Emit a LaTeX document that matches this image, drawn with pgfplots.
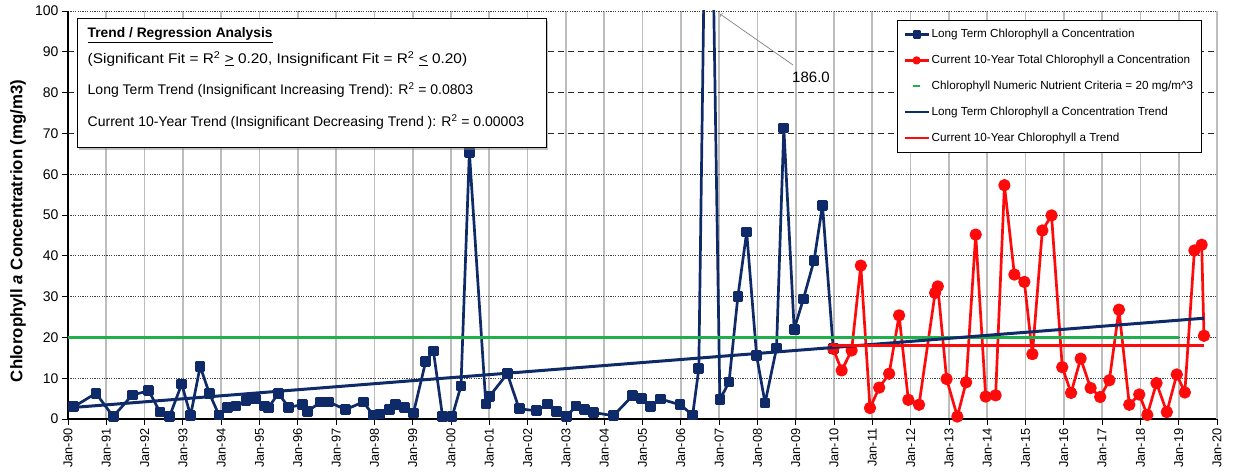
\documentclass[border=0pt]{standalone}
\usepackage{fontspec}
\setmainfont{Liberation Sans}
\usepackage{graphicx}
\usepackage{pgfplots}
\pgfplotsset{compat=1.18}
\usetikzlibrary{shadows}
\definecolor{navy}{HTML}{0F2A68}
\definecolor{chred}{HTML}{FF0A0A}
\definecolor{chgreen}{HTML}{1FB04C}
\definecolor{gridgray}{HTML}{BDBDBD}
\pgfplotsset{greenleg/.style={legend image code/.code={\draw[##1, line width=2pt] (8pt,0pt) -- (15pt,0pt);}}}
\newcommand{\lf}{\fontsize{11.7}{13}\selectfont}

\pgfplotstableread{
x y
0.15 3.0
0.73 6.3
1.18 0.6
1.68 5.9
2.11 6.9
2.40 1.7
2.65 0.6
2.97 8.6
3.20 0.8
3.45 12.9
3.69 6.3
3.94 1.0
4.17 2.9
4.39 3.2
4.65 4.5
4.89 4.9
5.13 3.2
5.23 2.7
5.49 6.3
5.76 2.9
6.13 3.5
6.26 1.9
6.60 4.2
6.80 4.2
7.25 2.3
7.71 4.2
7.96 1.0
8.15 1.2
8.39 2.3
8.56 3.5
8.78 2.8
9.02 1.5
9.34 14.1
9.54 16.7
9.78 0.6
10.03 0.6
10.26 8.1
10.48 65.4
10.91 3.7
11.00 5.5
11.47 11.1
11.78 2.5
12.24 2.0
12.52 3.7
12.76 1.9
13.02 0.6
13.26 3.2
13.48 2.4
13.72 1.6
14.24 0.8
14.74 5.7
14.98 5.0
15.21 3.1
15.47 4.9
15.98 3.5
16.31 1.0
16.47 12.3
16.72 186.0
17.02 4.7
17.26 9.1
17.49 30.0
17.72 45.8
17.98 15.5
18.20 3.9
18.50 17.4
18.69 71.3
18.96 22.0
19.20 29.4
19.48 38.9
19.70 52.4
19.98 17.2
}\longterm

\pgfplotstableread{
x y
19.98 17.2
20.20 11.9
20.46 16.8
20.70 37.6
20.94 2.7
21.18 7.7
21.44 11.1
21.70 25.4
21.94 4.7
22.22 3.5
22.64 30.9
22.71 32.5
22.94 9.8
23.22 0.6
23.45 9.0
23.70 45.2
23.96 5.5
24.22 5.8
24.45 57.3
24.71 35.4
24.97 33.6
25.18 15.9
25.44 46.2
25.68 49.9
25.96 12.7
26.19 6.4
26.44 14.8
26.70 7.6
26.95 5.4
27.19 9.5
27.44 26.8
27.71 3.5
27.97 6.0
28.18 1.0
28.42 8.8
28.69 1.7
28.95 10.9
29.16 6.5
29.41 41.3
29.60 42.7
29.66 20.4
}\current

\begin{document}
\begin{tikzpicture}
\path[use as bounding box] (-68pt,-54pt) rectangle (1165pt,419pt);
\begin{axis}[
  scale only axis, width=1149pt, height=408pt,
  xmin=0, xmax=30, ymin=0, ymax=100,
  clip mode=individual,
  axis x line*=bottom, axis y line*=left,
  axis line style={line width=1.2pt, black, -},
  xtick={0,1,...,30},
  xticklabels={Jan-90,Jan-91,Jan-92,Jan-93,Jan-94,Jan-95,Jan-96,Jan-97,Jan-98,Jan-99,Jan-00,Jan-01,Jan-02,Jan-03,Jan-04,Jan-05,Jan-06,Jan-07,Jan-08,Jan-09,Jan-10,Jan-11,Jan-12,Jan-13,Jan-14,Jan-15,Jan-16,Jan-17,Jan-18,Jan-19,Jan-20},
  xticklabel style={rotate=90, anchor=east, font=\fontsize{12.8}{14}\selectfont},
  ytick={0,10,20,30,40,50,60,100},
  extra y ticks={70,80,90},
  extra y tick style={y grid style={black!85, dash pattern=on 6pt off 4pt, line width=0.9pt}},
  minor y tick num=4,
  ymajorgrids, xmajorgrids,
  y grid style={black!75, dash pattern=on 1.2pt off 1.2pt, line width=0.8pt},
  x grid style={gridgray, line width=1.7pt},
  tick align=outside,
  major tick length=6pt, minor tick length=4pt,
  tick style={black, line width=0.8pt},
  yticklabel style={font=\fontsize{14}{16}\selectfont},
  /pgf/number format/assume math mode=true,
  ylabel={\textbf{Chlorophyll \textit{a} Concentratrion (mg/m3)}},
  ylabel style={at={(axis description cs:-0.0435,0.461)}, anchor=center, font=\fontsize{16.8}{20}\selectfont},
  legend style={at={(axis description cs:0.7215,0.978)}, anchor=north west,
    draw=black, line width=1pt, fill=white,
    row sep=12pt, inner xsep=6pt, inner ysep=7pt},
  legend cell align=left,
  legend image code/.code={\draw[mark repeat=2,mark phase=2,#1,line width=2.2pt,mark size=3pt] plot coordinates {(0pt,0pt)(12pt,0pt)(24pt,0pt)};},
  every axis plot/.append style={line join=round},
]
\addplot[navy, line width=2.7pt, mark=square*, mark size=4pt, mark options={solid}] table {\longterm};
\addlegendentry{\lf Long Term Chlorophyll a Concentration}
\addplot[chred, line width=2.7pt, mark=*, mark size=4.8pt, mark options={solid, draw=chred, fill=chred}] table {\current};
\addlegendentry{\lf Current 10-Year Total Chlorophyll a Concentration}
\addplot[chgreen, line width=2.8pt, greenleg] coordinates {(0,20) (29.0,20)};
\addlegendentry{\lf Chlorophyll Numeric Nutrient Criteria = 20 mg/m\textasciicircum 3}
\addplot[navy, line width=3pt] coordinates {(0.1,2.8) (29.66,24.7)};
\addlegendentry{\lf Long Term Chlorophyll a Concentration Trend}
\addplot[chred, line width=3pt] coordinates {(19.94,18.1) (29.67,18.1)};
\addlegendentry{\lf Current 10-Year Chlorophyll a Trend}
\end{axis}
% right border
\draw[gridgray, line width=1.5pt] (1149pt,0pt) -- (1149pt,408pt);
% text box
\draw[fill=white, line width=1pt, drop shadow={shadow xshift=2pt, shadow yshift=-2pt, opacity=0.5}] (9pt,400pt) rectangle (478pt,271pt);
\node[anchor=base west, inner sep=0pt, font=\fontsize{13.8}{16}\selectfont] at (19.5pt,381.5pt) {\textbf{\underline{Trend / Regression Analysis}}};
\node[anchor=base west, inner sep=0pt, font=\fontsize{14}{16}\selectfont] at (19.5pt,355pt) {\scalebox{1.1}[1]{(Significant Fit = R\textsuperscript{2} \underline{>} 0.20, Insignificant Fit = R\textsuperscript{2} \underline{<} 0.20)}};
\node[anchor=base west, inner sep=0pt, font=\fontsize{14}{16}\selectfont] at (19.5pt,324.5pt) {Long Term Trend (Insignificant Increasing Trend): R\textsuperscript{2} = 0.0803};
\node[anchor=base west, inner sep=0pt, font=\fontsize{14}{16}\selectfont] at (19.5pt,292pt) {Current 10-Year Trend (Insignificant Decreasing Trend ): R\textsuperscript{2} = 0.00003};
% annotation
\draw[gray, line width=0.7pt, ->] (725pt,354pt) -- (652pt,405pt);
\node[font=\fontsize{15}{17}\selectfont] at (743pt,342pt) {186.0};
\end{tikzpicture}
\end{document}
